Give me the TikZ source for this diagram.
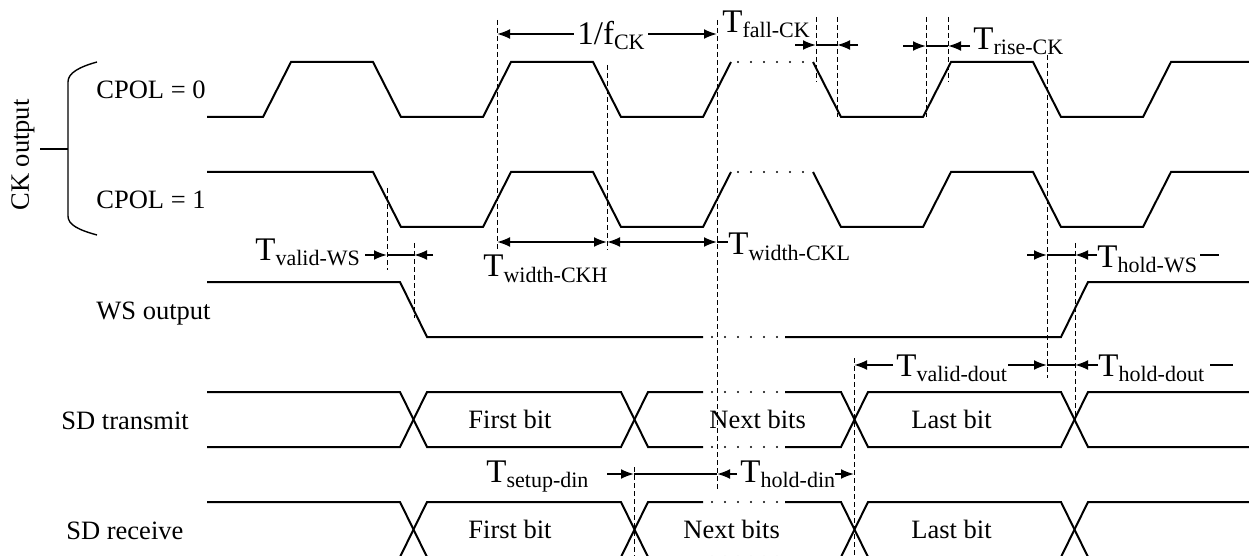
\documentclass[tikz,border=0pt]{standalone}
\usepackage{fontspec}
\setmainfont{Liberation Serif}
\usetikzlibrary{arrows.meta}
\tikzset{>={Latex[length=6.5pt,width=5pt]}}
\newcommand{\nrm}{\fontsize{13.25}{15}\selectfont}
\newcommand{\Tlab}[1]{{\fontsize{16.5}{18}\selectfont T}\raisebox{-2.5pt}{\fontsize{11}{12}\selectfont #1}}

\begin{document}
\begin{tikzpicture}[x=0.5pt,y=-0.5pt,
  sig/.style={line width=1pt},
  guide/.style={line width=0.5pt,dash pattern=on 2.5pt off 1.5pt},
  gap/.style={line width=1.1pt,line cap=round,dash pattern=on 0pt off 6.5pt},
  dim/.style={line width=1pt},
  lab/.style={anchor=base west,inner sep=0pt,font=\nrm},
  tl/.style={anchor=base west,inner sep=0pt}]
\useasboundingbox (0,0) rectangle (1249,556);

% row names
\node[font=\nrm,rotate=90,inner sep=0pt] (ck) at (23,155) {CK output};
\node[lab] (cpol0) at (96,99) {CPOL = 0};
\node[lab] (cpol1) at (96,209) {CPOL = 1};
\node[lab] (ws) at (96,319) {WS output};
\node[lab] (sdt) at (61,429) {SD transmit};
\node[lab] (sdr) at (66,539) {SD receive};
\draw[line width=0.7pt] (97,62) .. controls (79,67) and (68,73) .. (68,82) -- (68,216)
  .. controls (68,225) and (79,230) .. (97,235);
\draw[line width=0.7pt] (40,149) -- (68,149);

% clock rows
\foreach \lo/\hi in {117/62, 227/172} {
  \draw[gap] (738,\hi) -- (808,\hi);
  \draw[sig] (813,\hi) -- (841,\lo) -- (923,\lo) -- (951,\hi) -- (1033,\hi)
    -- (1061,\lo) -- (1143,\lo) -- (1171,\hi) -- (1249,\hi);
}
\draw[sig] (207,117) -- (263,117) -- (291,62) -- (373,62) -- (401,117) -- (483,117)
  -- (511,62) -- (593,62) -- (621,117) -- (703,117) -- (731,62);
\draw[sig] (207,172) -- (373,172) -- (401,227) -- (483,227)
  -- (511,172) -- (593,172) -- (621,227) -- (703,227) -- (731,172);

% word select
\draw[sig] (207,282) -- (400,282) -- (427,337) -- (703,337);
\draw[gap] (712,337) -- (778,337);
\draw[sig] (785,337) -- (1061,337) -- (1088,282) -- (1249,282);

% data rows
\foreach \yt/\yb in {392/447, 502/557} {
  \draw[sig] (207,\yt) -- (400,\yt) -- (427,\yb) -- (621,\yb) -- (648,\yt) -- (703,\yt);
  \draw[sig] (207,\yb) -- (400,\yb) -- (427,\yt) -- (621,\yt) -- (648,\yb) -- (703,\yb);
  \draw[gap] (712,\yt) -- (778,\yt) (712,\yb) -- (778,\yb);
  \draw[sig] (785,\yt) -- (841,\yt) -- (868,\yb) -- (1061,\yb) -- (1088,\yt) -- (1249,\yt);
  \draw[sig] (785,\yb) -- (841,\yb) -- (868,\yt) -- (1061,\yt) -- (1088,\yb) -- (1249,\yb);
}
\foreach \x/\y in {468/428, 468/538} \node[lab] at (\x,\y) {First bit};
\node[lab] (nbt) at (709,428) {Next bits};
\node[lab] (nbr) at (683,538) {Next bits};
\foreach \x/\y in {911/428, 911/538} \node[lab] at (\x,\y) {Last bit};

% guide lines
\foreach \x/\ya/\yb in {387/188/270, 414/243/318, 497/20/250, 607/65/250, 717/20/490,
  816/17/82, 837/17/117, 926/17/117, 948/17/82, 1047/55/378, 1075/243/420,
  854/358/556, 634/467/556}
  \draw[guide] (\x,\ya) -- (\x,\yb);

% timing parameters
\draw[dim,<->] (497,34) -- (717,34);
\node[tl,fill=white,inner xsep=1.5pt] (fck) at (574,45)
  {{\fontsize{16.5}{18}\selectfont 1/f}\raisebox{-2.5pt}{\fontsize{11}{12}\selectfont CK}};

\node[tl] (tfall) at (722,33) {\Tlab{fall-CK}};
\draw[dim,->] (795,45) -- (816,45);
\draw[dim] (816,45) -- (837,45);
\draw[dim,->] (858,45) -- (837,45);

\node[tl] (trise) at (973,50) {\Tlab{rise-CK}};
\draw[dim,->] (903,46) -- (926,46);
\draw[dim] (926,46) -- (948,46);
\draw[dim,->] (970,46) -- (948,46);

\node[tl] (vws) at (255,260) {\Tlab{valid-WS}};
\draw[dim,->] (365,255) -- (387,255);
\draw[dim] (387,255) -- (414,255);
\draw[dim,->] (433,255) -- (414,255);

\node[tl] (wckh) at (483,277) {\Tlab{width-CKH}};
\node[tl] (wckl) at (728,255) {\Tlab{width-CKL}};
\draw[dim,<->] (497,242) -- (607,242);
\draw[dim,<->] (607,242) -- (717,242);
\draw[dim] (717,242) -- (wckl.west |- 0,242);

\node[tl] (hws) at (1097,267) {\Tlab{hold-WS}};
\draw[dim,->] (1027,255) -- (1047,255);
\draw[dim] (1047,255) -- (1075,255);
\draw[dim,->] (1097,255) -- (1075,255);
\draw[dim] (1200,255) -- (1219,255);

\node[tl] (vdo) at (896,376) {\Tlab{valid-dout}};
\node[tl] (hdo) at (1098,376) {\Tlab{hold-dout}};
\draw[dim,->] (893,365) -- (854,365);
\draw[dim,->] (1008,365) -- (1047,365);
\draw[dim] (1047,365) -- (1075,365);
\draw[dim,->] (1098,365) -- (1075,365);
\draw[dim] (1210,365) -- (1233,365);

\node[tl] (sdin) at (486,482) {\Tlab{setup-din}};
\node[tl] (hdin) at (740,482) {\Tlab{hold-din}};
\draw[dim,->] (607,474) -- (634,474);
\draw[dim] (634,474) -- (717,474);
\draw[dim,->] (737,474) -- (717,474);
\draw[dim,->] (835,474) -- (854,474);
\end{tikzpicture}
\end{document}
